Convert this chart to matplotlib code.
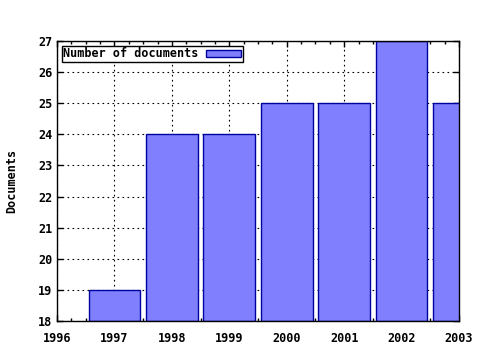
import matplotlib
matplotlib.use("Agg")
import matplotlib.pyplot as plt
from matplotlib.ticker import MultipleLocator

years = [1997, 1998, 1999, 2000, 2001, 2002, 2003]
documents = [19, 24, 24, 25, 25, 27, 25]
series_label = "Number of documents"

plt.rcParams['font.family'] = ['DejaVu Sans Mono']
plt.rcParams['font.weight'] = 'bold'
plt.rcParams['font.size'] = 8.5

fig = plt.figure(figsize=(4.8, 3.5), dpi=100)
ax = fig.add_axes([57/480, 29/350, 402/480, 280/350])

ax.bar(years, [d - 18 for d in documents], bottom=18, width=0.9,
       color='#8080ff', edgecolor='#0000a0', linewidth=1.0,
       label=series_label, zorder=2)

ax.set_xlim(1996, 2003)
ax.set_ylim(18, 27)
ax.set_xticks(range(1996, 2004))
ax.set_yticks(range(18, 28))
ax.xaxis.set_minor_locator(MultipleLocator(0.25))
ax.grid(True, which='major', linestyle=(0, (1.5, 3)), color='black', linewidth=0.8, zorder=1)
ax.tick_params(which='both', direction='in', top=True, right=True, length=4, width=1, labelsize=8.5)
ax.tick_params(which='minor', length=2)
ax.tick_params(axis='x', pad=8)
for s in ax.spines.values():
    s.set_linewidth(1.0)
ax.set_ylabel("Documents", fontsize=8.5, fontweight='bold', labelpad=14)

leg = ax.legend(loc='upper left', markerfirst=False, frameon=True, fancybox=False,
                edgecolor='black', framealpha=1, borderaxespad=0.4,
                handlelength=3.0, handleheight=0.6, borderpad=0.15, handletextpad=0.6,
                fontsize=8.5)
leg.get_frame().set_linewidth(1.0)

fig.savefig("out.png", dpi=100)
